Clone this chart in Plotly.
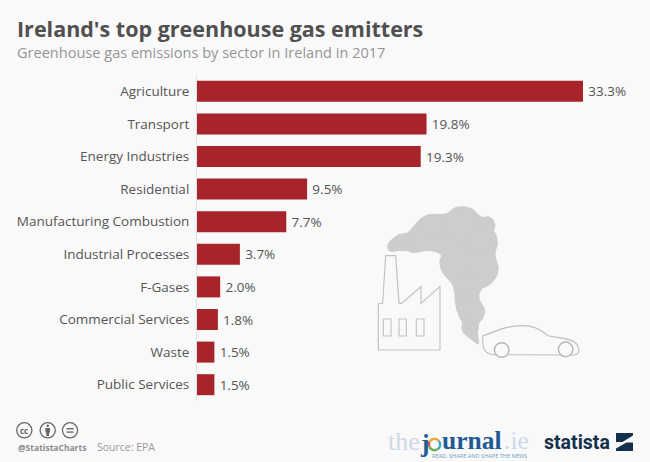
import math
import plotly.graph_objects as go

categories = ["Agriculture", "Transport", "Energy Industries", "Residential",
              "Manufacturing Combustion", "Industrial Processes", "F-Gases",
              "Commercial Services", "Waste", "Public Services"]
values = [33.3, 19.8, 19.3, 9.5, 7.7, 3.7, 2.0, 1.8, 1.5, 1.5]

W, H = 650, 462
L, R, T, B = 197, 583, 75, 401
BG = "#f9f9f9"
FONT = "Open Sans"

def px(x): return (x - L) / (R - L)
def py(y): return (B - y) / (B - T)
def zx(x): return 340 + x / 3
def zy(y): return 190 + y / 3
def P(x, y): return f"{px(x):.4f},{py(y):.4f}"

shapes = []

def add(s, line=None, fill=None, w=1.0):
    shapes.append(dict(type="path", xref="paper", yref="paper", path=s,
                       line=dict(color=line or "rgba(0,0,0,0)", width=w if line else 0),
                       fillcolor=fill or "rgba(0,0,0,0)", layer="above"))

def poly(pts, line=None, fill=None, w=1.0, close=True):
    s = "M" + P(*pts[0]) + " " + " ".join("L" + P(*q) for q in pts[1:]) + (" Z" if close else "")
    add(s, line, fill, w)

def zpoly(pts, **k):
    poly([(zx(a), zy(b)) for a, b in pts], **k)

def smooth(pts, **k):
    p = [(zx(a), zy(b)) for a, b in pts]
    n = len(p)
    mid = lambda u, v: ((u[0] + v[0]) / 2, (u[1] + v[1]) / 2)
    s = "M" + P(*mid(p[-1], p[0])) + " "
    for i in range(n):
        s += "Q" + P(*p[i]) + " " + P(*mid(p[i], p[(i + 1) % n])) + " "
    add(s + "Z", **k)

def circle(cx, cy, r, line=None, fill=None, w=1.0):
    shapes.append(dict(type="circle", xref="paper", yref="paper",
                       x0=px(cx - r), x1=px(cx + r), y0=py(cy + r), y1=py(cy - r),
                       line=dict(color=line or "rgba(0,0,0,0)", width=w if line else 0),
                       fillcolor=fill or "rgba(0,0,0,0)", layer="above"))

def arc(cx, cy, r, a0, a1, color, w):
    pts = [(cx + r * math.cos(math.radians(a0 + (a1 - a0) * i / 12)),
            cy + r * math.sin(math.radians(a0 + (a1 - a0) * i / 12))) for i in range(13)]
    poly(pts, line=color, w=w, close=False)

# smoke: body outline plus the round puffs along its edge
SMOKE = "#cdcdcd"
smooth([(140, 170), (150, 150), (178, 130), (205, 130), (225, 100), (262, 68), (318, 75),
        (345, 48), (395, 50), (425, 85), (450, 75), (470, 105), (458, 128), (478, 155),
        (462, 195), (482, 240), (455, 285), (418, 298), (418, 332), (442, 365), (418, 392),
        (412, 425), (420, 470), (395, 450), (362, 425), (368, 390), (348, 365), (345, 330),
        (340, 282), (308, 255), (295, 215), (308, 192), (262, 180), (222, 192), (190, 178), (150, 190)],
       fill=SMOKE)
for a, b, r in [(156, 168, 14), (186, 158, 26), (235, 150, 36), (283, 112, 40), (368, 102, 50),
                (440, 104, 24), (430, 150, 42), (352, 222, 50), (424, 235, 50), (382, 290, 42),
                (380, 330, 36), (394, 366, 40), (392, 412, 25)]:
    circle(zx(a), zy(b), r / 3, fill=SMOKE)

# factory
LINE = "#c4c4c4"
zpoly([(115, 480), (115, 342), (128, 340), (137, 197), (167, 197), (177, 340), (185, 340),
       (243, 290), (243, 340), (300, 290), (300, 480)], line=LINE, w=1.2)
for a, c in [(130, 153), (177, 199), (229, 252)]:
    zpoly([(a, 387), (c, 387), (c, 438), (a, 438)], line=LINE, w=1.2)

# car
def Z(a, b): return P(zx(a), zy(b))
add(f"M{Z(428,437)} C{Z(470,425)} {Z(490,408)} {Z(545,407)} C{Z(585,407)} {Z(600,420)} {Z(625,437)} "
    f"C{Z(660,445)} {Z(700,445)} {Z(712,465)} C{Z(720,480)} {Z(718,495)} {Z(700,495)} "
    f"L{Z(460,494)} C{Z(432,490)} {Z(428,480)} {Z(428,437)} Z", line="#bdbdbd", w=1.1)
for a, b in [(485, 480), (677, 478)]:
    circle(zx(a), zy(b), 7.3, line="#b5b5b5", fill=BG, w=1.4)

# licence icons
ICON = "#666666"
for cx in (24.3, 47.7, 70):
    circle(cx, 430.3, 7.6, line=ICON, w=1.3)
circle(47.7, 425.8, 1.3, fill=ICON)
poly([(45.4, 428), (50, 428), (50, 432.5), (49, 432.5), (49, 436), (46.4, 436), (46.4, 432.5), (45.4, 432.5)], fill=ICON)
poly([(66.5, 428), (73.5, 428), (73.5, 429.4), (66.5, 429.4)], fill=ICON)
poly([(66.5, 431.4), (73.5, 431.4), (73.5, 432.8), (66.5, 432.8)], fill=ICON)

ann = []
def text(x, y, s, size, color, anchor="left", family=FONT, bold=False):
    ann.append(dict(xref="paper", yref="paper", x=px(x), y=py(y), text=f"<b>{s}</b>" if bold else s,
                    showarrow=False, xanchor=anchor, yanchor="middle",
                    font=dict(size=size, color=color, family=family)))

text(15, 29, "Ireland's top greenhouse gas emitters", 21.5, "#505050", bold=True)
text(15, 52, "Greenhouse gas emissions by sector in Ireland in 2017", 14.55, "#959595")
text(24.3, 430, "cc", 8, ICON, anchor="center", bold=True)
text(16, 447, "@StatistaCharts", 8.5, "#8a8a8a", bold=True)
text(95, 447, "Source: EPA", 10.5, "#9a9a9a")

text(386, 441, "the", 26, "#ced8e8", family="Liberation Serif")
text(418, 443, "j", 25.5, "#1f5a94", family="Liberation Serif", bold=True)
for a0, a1, col in [(-150, -40, "#e8a838"), (-40, 60, "#3aa8c8"), (60, 160, "#6ab04c"), (160, 210, "#d9534f")]:
    arc(434.5, 444.5, 5.6, a0, a1, col, 2.4)
text(440, 440.5, "urnal", 25.5, "#1f5a94", family="Liberation Serif", bold=True)
text(502, 440.5, ".ie", 25.5, "#ced8e8", family="Liberation Serif")
text(429.5, 456, "READ, SHARE AND SHAPE THE NEWS", 5.6, "#6f9cc4")
text(542, 442, "statista", 19.5, "#13304c", family="Roboto", bold=True)
poly([(616, 433), (633, 433), (633, 435.5), (622.5, 442), (616, 442)], fill="#13304c")
poly([(616, 451), (616, 448.5), (626.5, 442.5), (633, 442.5), (633, 451)], fill="#13304c")

fig = go.Figure(go.Bar(
    x=values, y=categories, orientation="h",
    marker=dict(color="#a8242b", line=dict(width=0)),
    width=0.645,
    text=[f"\u2009{v:.1f}%" for v in values], textposition="outside", cliponaxis=False,
    textfont=dict(size=13.5, color="#555555", family=FONT),
))
fig.update_layout(
    width=W, height=H, autosize=False,
    margin=dict(l=L, r=W - R, t=T, b=H - B, pad=0),
    paper_bgcolor=BG, plot_bgcolor=BG, showlegend=False,
    font=dict(family=FONT),
    shapes=shapes, annotations=ann,
)
fig.update_xaxes(range=[0, 33.3], visible=False, fixedrange=True)
fig.update_yaxes(autorange=False, range=[9.5, -0.5], type="category",
                 tickfont=dict(size=13.5, color="#555555", family=FONT),
                 ticks="outside", ticklen=4, tickcolor=BG, showline=True, linecolor="#e0e0e0",
                 linewidth=1, showgrid=False, fixedrange=True)
fig.write_html("out.html", config={"displayModeBar": False},
               post_script="document.body.style.margin='0';document.body.style.background='#f9f9f9';document.body.style.overflow='hidden';")
